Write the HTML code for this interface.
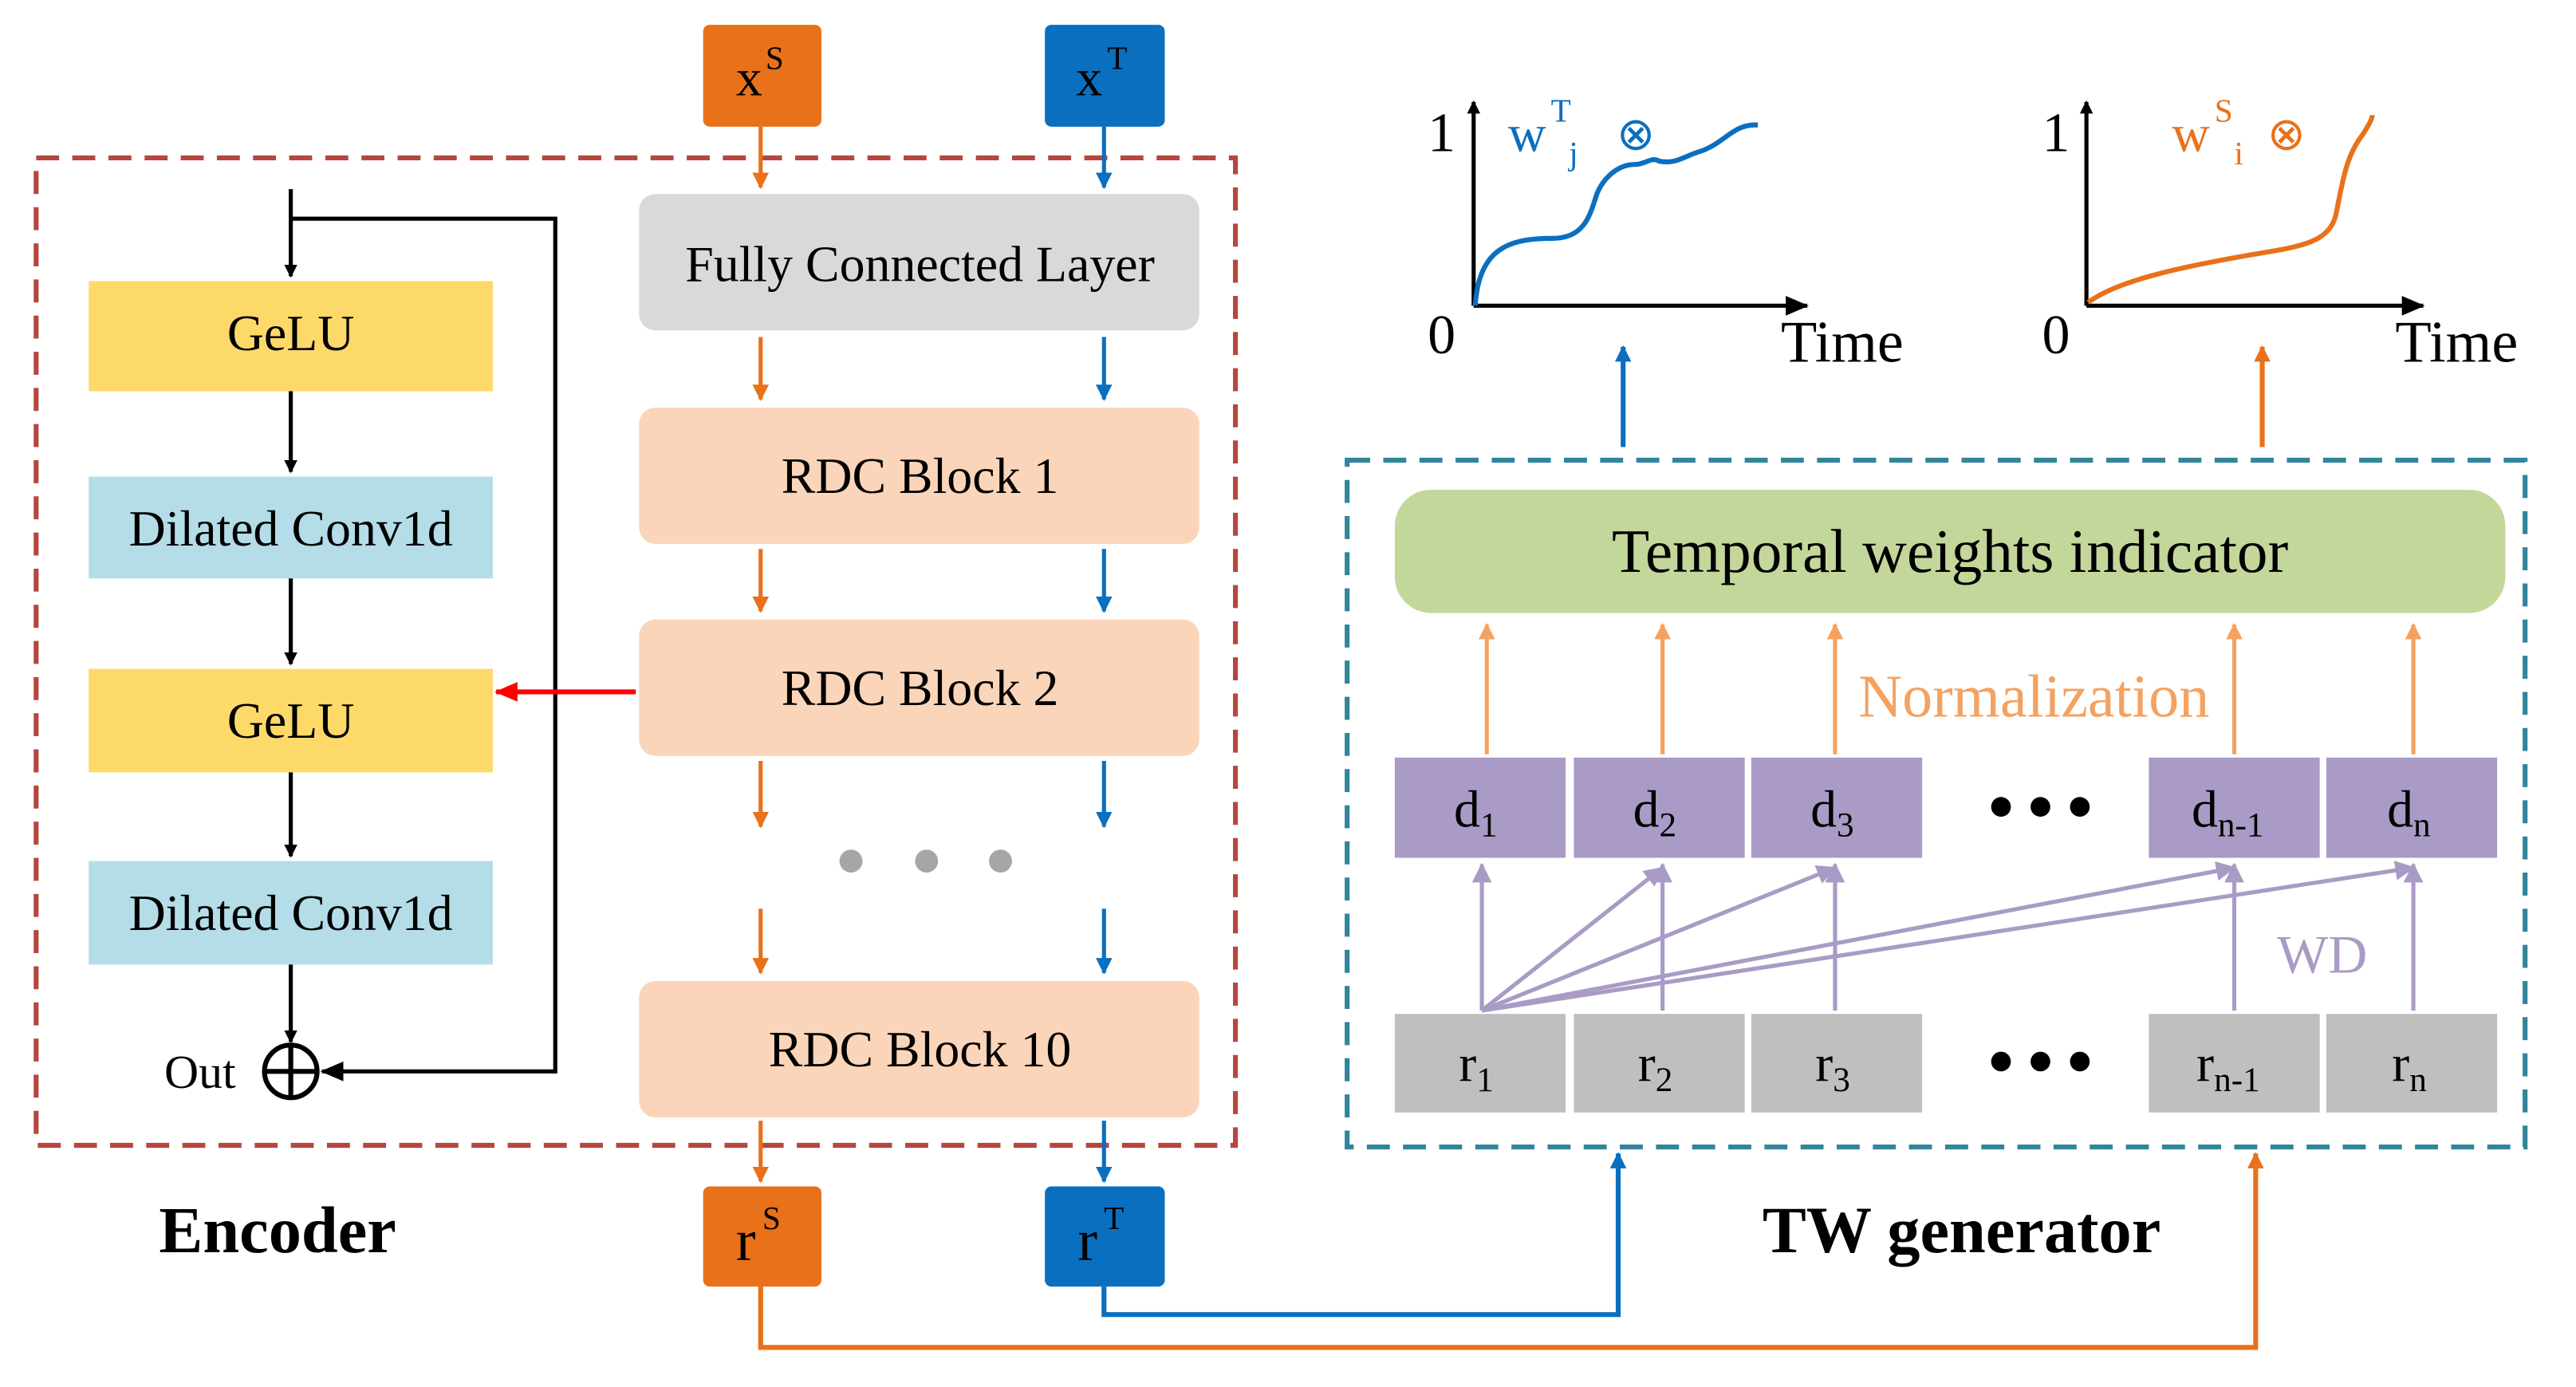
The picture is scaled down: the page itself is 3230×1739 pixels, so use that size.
<!DOCTYPE html>
<html><head><meta charset="utf-8"><style>
html,body{margin:0;padding:0;background:#fff;}
svg{display:block;}
text{font-family:"Liberation Serif",serif;}
</style></head><body>
<svg width="3230" height="1739" viewBox="0 0 1568 844" xmlns="http://www.w3.org/2000/svg">
<defs>
<marker id="ak" markerWidth="8" markerHeight="8" refX="7" refY="4" orient="auto" markerUnits="userSpaceOnUse"><path d="M0,0 L8,4 L0,8 z" fill="#000"/></marker>
<marker id="ao" markerWidth="10" markerHeight="10" refX="9" refY="5" orient="auto" markerUnits="userSpaceOnUse"><path d="M0,0 L10,5 L0,10 z" fill="#E8711A"/></marker>
<marker id="ab" markerWidth="10" markerHeight="10" refX="9" refY="5" orient="auto" markerUnits="userSpaceOnUse"><path d="M0,0 L10,5 L0,10 z" fill="#0B6FC0"/></marker>
<marker id="ar" markerWidth="14" markerHeight="12" refX="13" refY="6" orient="auto" markerUnits="userSpaceOnUse"><path d="M0,0 L14,6 L0,12 z" fill="#FF0000"/></marker>
<marker id="alo" markerWidth="10" markerHeight="10" refX="9" refY="5" orient="auto" markerUnits="userSpaceOnUse"><path d="M0,0 L10,5 L0,10 z" fill="#F4A261"/></marker>
<marker id="ap" markerWidth="12" markerHeight="12" refX="11" refY="6" orient="auto" markerUnits="userSpaceOnUse"><path d="M0,0 L12,6 L0,12 z" fill="#A99BC5"/></marker>
<marker id="ax" markerWidth="14" markerHeight="12" refX="13" refY="6" orient="auto" markerUnits="userSpaceOnUse"><path d="M0,0 L14,6 L0,12 z" fill="#000"/></marker>
</defs>

<rect x="428" y="15" width="72" height="62" rx="4" fill="#E8711A"/>
<text x="448" y="58" font-size="32">x</text><text x="466" y="42" font-size="20">S</text>
<rect x="636" y="15" width="73" height="62" rx="4" fill="#0B6FC0"/>
<text x="655" y="58" font-size="32">x</text><text x="674" y="42" font-size="20">T</text>
<rect x="428" y="722" width="72" height="61" rx="4" fill="#E8711A"/>
<text x="448" y="767" font-size="36">r</text><text x="464" y="748" font-size="20">S</text>
<rect x="636" y="722" width="73" height="61" rx="4" fill="#0B6FC0"/>
<text x="656" y="767" font-size="36">r</text><text x="672" y="748" font-size="20">T</text>

<rect x="22" y="96" width="730" height="601" fill="none" stroke="#B5473F" stroke-width="3" stroke-dasharray="14,8"/>

<line x1="177" y1="115" x2="177" y2="168" stroke="#000" stroke-width="2.5" marker-end="url(#ak)"/>
<polyline points="177,133 338,133 338,652 196,652" fill="none" stroke="#000" stroke-width="2.5" marker-end="url(#ax)"/>
<rect x="54" y="171" width="246" height="67" fill="#FDD96A"/>
<text x="177" y="213" font-size="31" text-anchor="middle">GeLU</text>
<line x1="177" y1="238" x2="177" y2="287" stroke="#000" stroke-width="2.5" marker-end="url(#ak)"/>
<rect x="54" y="290" width="246" height="62" fill="#B4DDE8"/>
<text x="177" y="332" font-size="31" text-anchor="middle">Dilated Conv1d</text>
<line x1="177" y1="352" x2="177" y2="404" stroke="#000" stroke-width="2.5" marker-end="url(#ak)"/>
<rect x="54" y="407" width="246" height="63" fill="#FDD96A"/>
<text x="177" y="449" font-size="31" text-anchor="middle">GeLU</text>
<line x1="177" y1="470" x2="177" y2="521" stroke="#000" stroke-width="2.5" marker-end="url(#ak)"/>
<rect x="54" y="524" width="246" height="63" fill="#B4DDE8"/>
<text x="177" y="566" font-size="31" text-anchor="middle">Dilated Conv1d</text>
<line x1="177" y1="587" x2="177" y2="634" stroke="#000" stroke-width="2.5" marker-end="url(#ak)"/>
<circle cx="177" cy="652" r="16" fill="none" stroke="#000" stroke-width="3"/>
<line x1="161" y1="652" x2="193" y2="652" stroke="#000" stroke-width="3"/>
<line x1="177" y1="636" x2="177" y2="668" stroke="#000" stroke-width="3"/>
<text x="100" y="662" font-size="29">Out</text>
<line x1="387" y1="421" x2="302" y2="421" stroke="#FF0000" stroke-width="3" marker-end="url(#ar)"/>

<rect x="389" y="118" width="341" height="83" rx="10" fill="#D9D9D9"/>
<text x="560" y="171" font-size="31" text-anchor="middle">Fully Connected Layer</text>
<rect x="389" y="248" width="341" height="83" rx="10" fill="#FAD5B9"/>
<text x="560" y="300" font-size="31" text-anchor="middle">RDC Block 1</text>
<rect x="389" y="377" width="341" height="83" rx="10" fill="#FAD5B9"/>
<text x="560" y="429" font-size="31" text-anchor="middle">RDC Block 2</text>
<rect x="389" y="597" width="341" height="83" rx="10" fill="#FAD5B9"/>
<text x="560" y="649" font-size="31" text-anchor="middle">RDC Block 10</text>
<circle cx="518" cy="524" r="7" fill="#A6A6A6"/><circle cx="564" cy="524" r="7" fill="#A6A6A6"/><circle cx="609" cy="524" r="7" fill="#A6A6A6"/>

<g stroke-width="2.5">
<line x1="463" y1="77" x2="463" y2="114" stroke="#E8711A" marker-end="url(#ao)"/>
<line x1="672" y1="77" x2="672" y2="114" stroke="#0B6FC0" marker-end="url(#ab)"/>
<line x1="463" y1="205" x2="463" y2="243" stroke="#E8711A" marker-end="url(#ao)"/>
<line x1="672" y1="205" x2="672" y2="243" stroke="#0B6FC0" marker-end="url(#ab)"/>
<line x1="463" y1="334" x2="463" y2="372" stroke="#E8711A" marker-end="url(#ao)"/>
<line x1="672" y1="334" x2="672" y2="372" stroke="#0B6FC0" marker-end="url(#ab)"/>
<line x1="463" y1="463" x2="463" y2="503" stroke="#E8711A" marker-end="url(#ao)"/>
<line x1="672" y1="463" x2="672" y2="503" stroke="#0B6FC0" marker-end="url(#ab)"/>
<line x1="463" y1="553" x2="463" y2="592" stroke="#E8711A" marker-end="url(#ao)"/>
<line x1="672" y1="553" x2="672" y2="592" stroke="#0B6FC0" marker-end="url(#ab)"/>
<line x1="463" y1="682" x2="463" y2="719" stroke="#E8711A" marker-end="url(#ao)"/>
<line x1="672" y1="682" x2="672" y2="719" stroke="#0B6FC0" marker-end="url(#ab)"/>
<polyline points="672,783 672,800 985,800 985,702" fill="none" stroke="#0B6FC0" stroke-width="3" marker-end="url(#ab)"/>
<polyline points="463,783 463,820 1373,820 1373,702" fill="none" stroke="#E8711A" stroke-width="3" marker-end="url(#ao)"/>
<line x1="988" y1="272" x2="988" y2="211" stroke="#0B6FC0" stroke-width="3" marker-end="url(#ab)"/>
<line x1="1377" y1="272" x2="1377" y2="211" stroke="#E8711A" stroke-width="3" marker-end="url(#ao)"/>
</g>

<text x="169" y="762" font-size="40" font-weight="bold" text-anchor="middle">Encoder</text>
<text x="1194" y="762" font-size="40" font-weight="bold" text-anchor="middle">TW generator</text>

<rect x="820" y="280" width="717" height="418" fill="none" stroke="#31859C" stroke-width="3" stroke-dasharray="14,8"/>
<rect x="849" y="298" width="676" height="75" rx="22" fill="#C4D79B"/>
<text x="1187" y="348" font-size="37.5" text-anchor="middle">Temporal weights indicator</text>

<g fill="#A99BC5">
<rect x="849" y="461" width="104" height="61"/><rect x="958" y="461" width="104" height="61"/><rect x="1066" y="461" width="104" height="61"/>
<rect x="1308" y="461" width="104" height="61"/><rect x="1416" y="461" width="104" height="61"/>
</g>
<g fill="#BFBFBF">
<rect x="849" y="617" width="104" height="60"/><rect x="958" y="617" width="104" height="60"/><rect x="1066" y="617" width="104" height="60"/>
<rect x="1308" y="617" width="104" height="60"/><rect x="1416" y="617" width="104" height="60"/>
</g>
<g font-size="32">
<text x="885" y="503">d<tspan font-size="21" dy="6">1</tspan></text>
<text x="994" y="503">d<tspan font-size="21" dy="6">2</tspan></text>
<text x="1102" y="503">d<tspan font-size="21" dy="6">3</tspan></text>
<text x="1334" y="503">d<tspan font-size="21" dy="6">n-1</tspan></text>
<text x="1453" y="503">d<tspan font-size="21" dy="6">n</tspan></text>
<text x="888" y="658">r<tspan font-size="21" dy="6">1</tspan></text>
<text x="997" y="658">r<tspan font-size="21" dy="6">2</tspan></text>
<text x="1105" y="658">r<tspan font-size="21" dy="6">3</tspan></text>
<text x="1337" y="658">r<tspan font-size="21" dy="6">n-1</tspan></text>
<text x="1456" y="658">r<tspan font-size="21" dy="6">n</tspan></text>
</g>
<g fill="#000"><circle cx="1218" cy="491" r="6"/><circle cx="1242" cy="491" r="6"/><circle cx="1266" cy="491" r="6"/>
<circle cx="1218" cy="646" r="6"/><circle cx="1242" cy="646" r="6"/><circle cx="1266" cy="646" r="6"/></g>

<g stroke="#F4A261" stroke-width="2.5">
<line x1="905" y1="459" x2="905" y2="380" marker-end="url(#alo)"/>
<line x1="1012" y1="459" x2="1012" y2="380" marker-end="url(#alo)"/>
<line x1="1117" y1="459" x2="1117" y2="380" marker-end="url(#alo)"/>
<line x1="1360" y1="459" x2="1360" y2="380" marker-end="url(#alo)"/>
<line x1="1469" y1="459" x2="1469" y2="380" marker-end="url(#alo)"/>
</g>
<rect x="1126" y="402" width="226" height="40" fill="#fff"/>
<text x="1238" y="436" font-size="37" fill="#F4A261" text-anchor="middle">Normalization</text>

<g stroke="#A99BC5" stroke-width="2.5">
<line x1="902" y1="615" x2="902" y2="526" marker-end="url(#ap)"/>
<line x1="1012" y1="615" x2="1012" y2="526" marker-end="url(#ap)"/>
<line x1="1117" y1="615" x2="1117" y2="526" marker-end="url(#ap)"/>
<line x1="1360" y1="615" x2="1360" y2="526" marker-end="url(#ap)"/>
<line x1="1469" y1="615" x2="1469" y2="526" marker-end="url(#ap)"/>
<line x1="902" y1="615" x2="1012" y2="528" marker-end="url(#ap)"/>
<line x1="902" y1="615" x2="1117" y2="528" marker-end="url(#ap)"/>
<line x1="902" y1="615" x2="1360" y2="528" marker-end="url(#ap)"/>
<line x1="902" y1="615" x2="1469" y2="528" marker-end="url(#ap)"/>
</g>
<text x="1386" y="592" font-size="33" fill="#A99BC5">WD</text>

<g stroke="#000" stroke-width="2.5">
<line x1="897" y1="186" x2="897" y2="62" marker-end="url(#ak)"/>
<line x1="897" y1="186" x2="1100" y2="186" marker-end="url(#ax)"/>
<line x1="1270" y1="186" x2="1270" y2="62" marker-end="url(#ak)"/>
<line x1="1270" y1="186" x2="1475" y2="186" marker-end="url(#ax)"/>
</g>
<g font-size="34">
<text x="869" y="92">1</text><text x="869" y="215">0</text><text x="1084" y="220" font-size="36">Time</text>
<text x="1243" y="92">1</text><text x="1243" y="215">0</text><text x="1458" y="220" font-size="36">Time</text>
</g>
<path d="M898,186 C900,150 920,145 945,145 C965,145 968,130 972,118 C976,108 985,100 995,100 C1002,100 1005,95 1010,98 C1020,100 1025,95 1035,92 C1050,87 1055,75 1070,76" fill="none" stroke="#0B6FC0" stroke-width="3"/>
<path d="M1271,184 C1290,170 1330,162 1370,155 C1400,150 1418,148 1422,130 C1426,110 1428,95 1438,82 C1442,76 1444,72 1444,70" fill="none" stroke="#E8711A" stroke-width="3"/>
<text x="918" y="92" font-size="32" fill="#0B6FC0">w</text><text x="944" y="74" font-size="20" fill="#0B6FC0">T</text><text x="955" y="100" font-size="20" fill="#0B6FC0">j</text>
<text x="984" y="91" font-size="28" fill="#0B6FC0">⊗</text>
<text x="1322" y="92" font-size="32" fill="#E8711A">w</text><text x="1348" y="74" font-size="20" fill="#E8711A">S</text><text x="1360" y="100" font-size="20" fill="#E8711A">i</text>
<text x="1380" y="91" font-size="28" fill="#E8711A">⊗</text>
</svg>
</body></html>
